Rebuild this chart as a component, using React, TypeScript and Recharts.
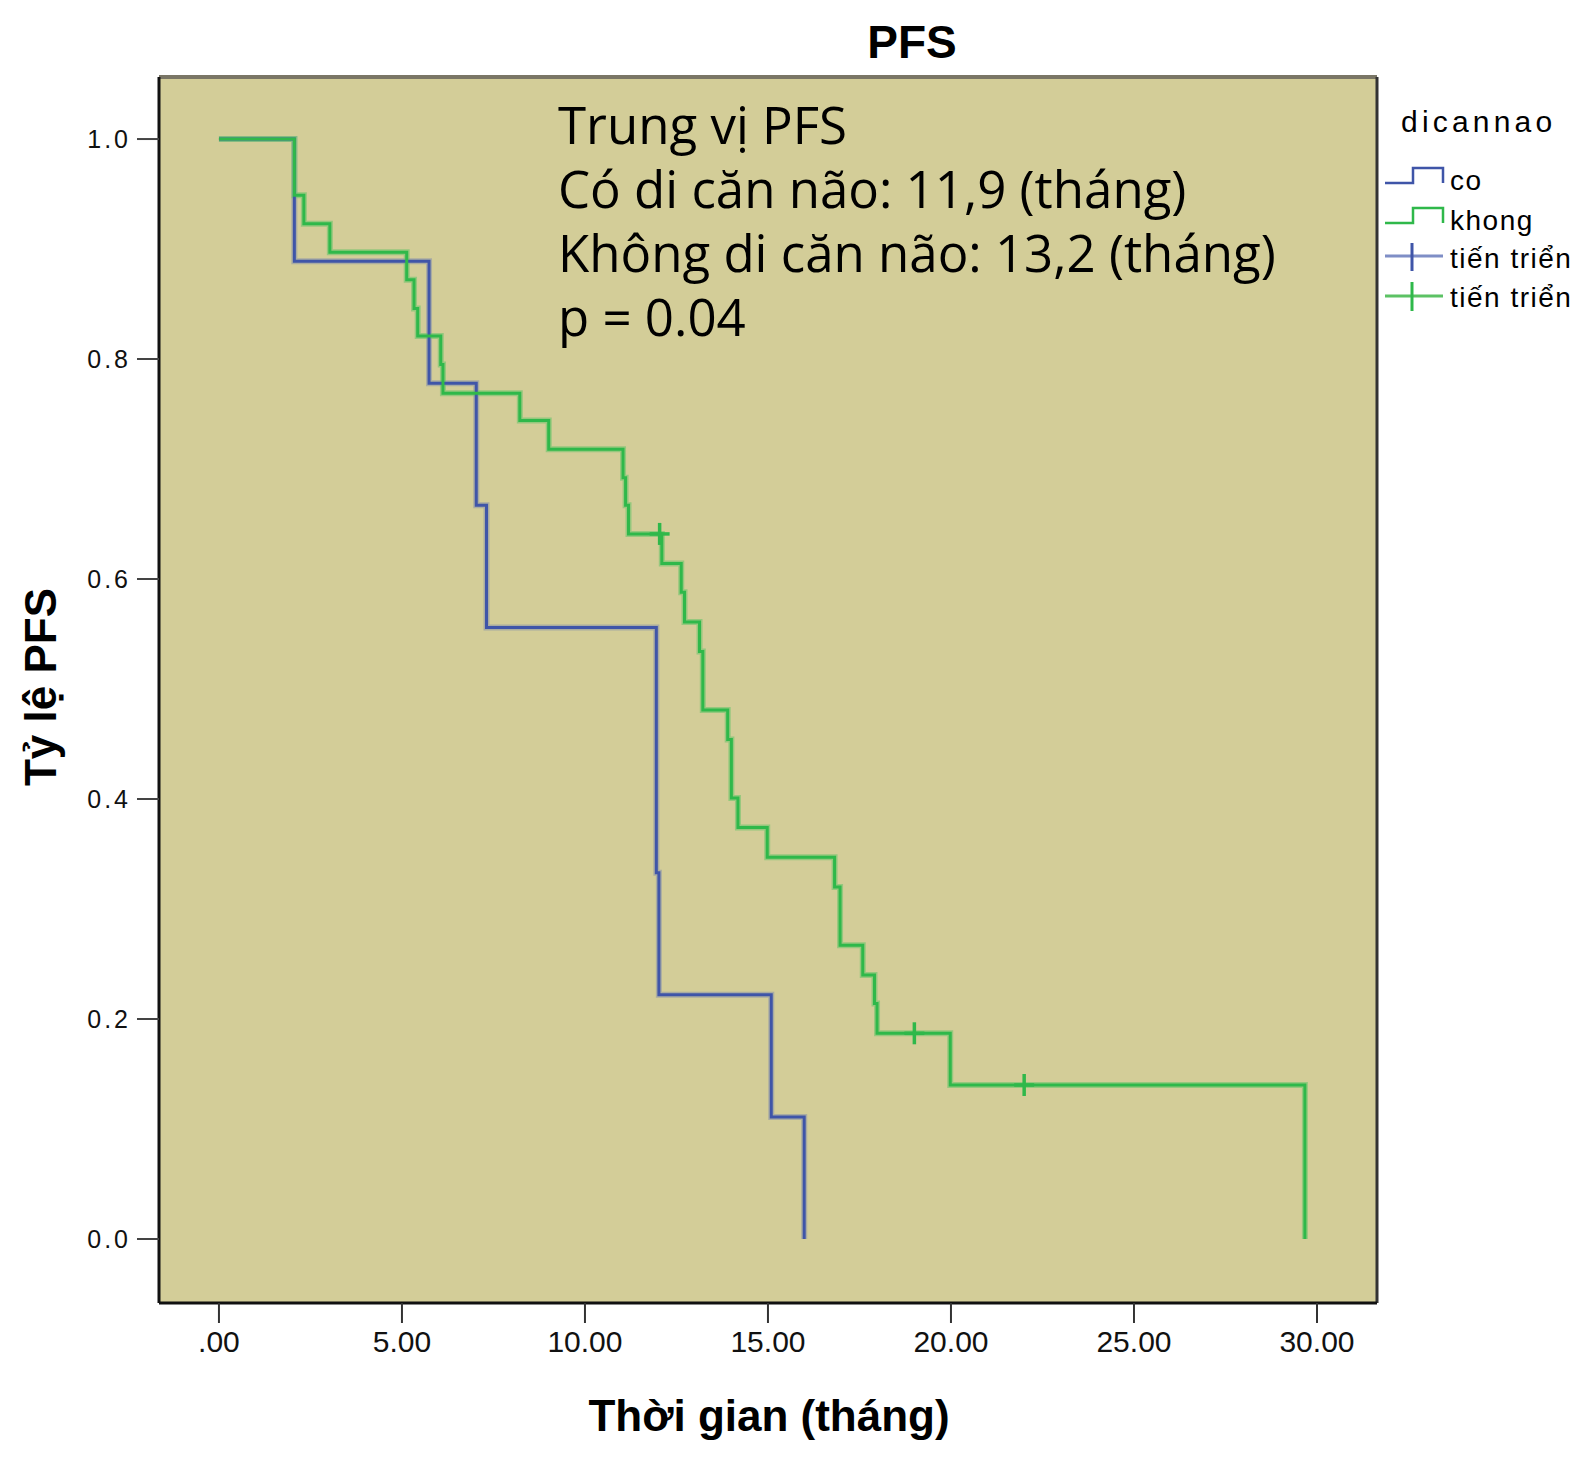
import { ComposedChart, Line, XAxis, YAxis, CartesianGrid, ReferenceLine } from "recharts";

// Kaplan-Meier steps (months, survival proportion)
const coTimes = [0, 2.06, 5.74, 7.03, 7.31, 11.95, 12.02, 15.09, 15.99];
const coSurv = [1, 0.889, 0.778, 0.667, 0.556, 0.333, 0.222, 0.111, 0];

const khongTimes = [
	0, 2.06, 2.32, 3.03, 5.13, 5.33, 5.43, 6.06, 6.12, 8.22, 9.01, 11.04, 11.11, 11.19, 12.1,
	12.63, 12.72, 13.13, 13.22, 13.9, 14.0, 14.18, 14.98, 16.82, 16.97, 17.59, 17.91, 17.98,
	19.98, 29.67,
];
const khongSurv = [
	1, 0.949, 0.923, 0.897, 0.872, 0.846, 0.821, 0.795, 0.769, 0.744, 0.718, 0.692, 0.667, 0.641,
	0.614, 0.588, 0.561, 0.534, 0.481, 0.454, 0.401, 0.374, 0.347, 0.32, 0.267, 0.24, 0.214, 0.187,
	0.14, 0,
];

// censored observations (tiến triển marks)
const khongCensorTimes = [12.04, 19.0, 22.0];
const khongCensorSurv = [0.641, 0.187, 0.14];

const xTicks = [0, 5, 10, 15, 20, 25, 30];
const yTicks = [0, 0.2, 0.4, 0.6, 0.8, 1.0];

const annotation = [
	"Trung vị PFS",
	"Có di căn não: 11,9 (tháng)",
	"Không di căn não: 13,2 (tháng)",
	"p = 0.04",
];

const BLUE = "#3f55a8";
const GREEN = "#2fb84a";
const BG = "#d3cd98";

const toPoints = (ts: number[], ss: number[]) => ts.map((t, i) => ({ t, s: ss[i] }));

const coData = toPoints(coTimes, coSurv);
const khongData = toPoints(khongTimes, khongSurv);
const censorData = toPoints(khongCensorTimes, khongCensorSurv);

function Cross(props: any) {
	const { cx, cy } = props;
	if (cx == null || cy == null) return null;
	return (
		<g key={`c-${cx}-${cy}`}>
			<line x1={cx - 10} x2={cx + 10} y1={cy} y2={cy} stroke={GREEN} strokeWidth={3.5} />
			<line x1={cx} x2={cx} y1={cy - 11} y2={cy + 11} stroke={GREEN} strokeWidth={3.5} />
		</g>
	);
}

export default function App() {
	return (
		<div style={{ position: "absolute", left: 0, top: 0, width: 1575, height: 1459, background: "#fff" }}>
			<ComposedChart
				width={1575}
				height={1459}
				margin={{ top: 77, right: 198, bottom: 76, left: 39 }}
			>
				<CartesianGrid horizontal={false} vertical={false} fill={BG} stroke="none" />
				<XAxis
					type="number"
					dataKey="t"
					domain={[-1.638, 31.64]}
					allowDataOverflow
					ticks={xTicks}
					tickFormatter={(v: number) => (v === 0 ? ".00" : v.toFixed(2))}
					height={80}
					tickSize={20}
					tickMargin={8}
					tick={{ fill: "#111", fontSize: 30, fontFamily: "Liberation Sans, Arial, sans-serif" }}
					axisLine={{ stroke: "#111", strokeWidth: 3 }}
					tickLine={{ stroke: "#333", strokeWidth: 2 }}
				/>
				<YAxis
					type="number"
					dataKey="s"
					domain={[-0.0582, 1.0564]}
					allowDataOverflow
					ticks={yTicks}
					tickFormatter={(v: number) => v.toFixed(1)}
					width={120}
					tickSize={22}
					tickMargin={6}
					tick={{ fill: "#111", fontSize: 25, letterSpacing: 3, fontFamily: "Liberation Sans, Arial, sans-serif" }}
					axisLine={{ stroke: "#111", strokeWidth: 3 }}
					tickLine={{ stroke: "#444", strokeWidth: 2 }}
				/>
				<ReferenceLine y={1.0564} stroke="#7a7666" strokeWidth={4} ifOverflow="visible" />
				<ReferenceLine x={31.64} stroke="#333" strokeWidth={3} ifOverflow="visible" />

				{/* soft halo under each curve, like the SPSS export */}
				<Line data={coData} dataKey="s" type="stepAfter" stroke="#8d96a8" strokeOpacity={0.6} strokeWidth={6} dot={false} isAnimationActive={false} />
				<Line data={khongData} dataKey="s" type="stepAfter" stroke="#6cc46a" strokeOpacity={0.6} strokeWidth={6} dot={false} isAnimationActive={false} />
				<Line data={coData} dataKey="s" type="stepAfter" stroke={BLUE} strokeWidth={3} dot={false} isAnimationActive={false} />
				<Line data={khongData} dataKey="s" type="stepAfter" stroke={GREEN} strokeWidth={3} dot={false} isAnimationActive={false} />
				<Line data={censorData} dataKey="s" stroke="none" strokeWidth={0} dot={<Cross />} activeDot={false} isAnimationActive={false} />
			</ComposedChart>

			<svg
				width={1575}
				height={1459}
				style={{ position: "absolute", left: 0, top: 0, pointerEvents: "none" }}
			>
				<text x={912} y={58} textAnchor="middle" fontSize={46} fontWeight="bold" fontFamily="Liberation Sans, Arial, sans-serif" fill="#000">
					PFS
				</text>
				{annotation.map((line, i) => (
					<text key={line} x={558} y={144 + i * 64} fontSize={51} fontFamily="Open Sans, Noto Sans, sans-serif" fill="#000">
						{line}
					</text>
				))}
				<text
					transform="translate(56,687) rotate(-90)"
					textAnchor="middle"
					fontSize={44}
					fontWeight="bold"
					fontFamily="Liberation Sans, Arial, sans-serif"
					fill="#000"
				>
					Tỷ lệ PFS
				</text>
				<text x={769} y={1431} textAnchor="middle" fontSize={44} fontWeight="bold" fontFamily="Liberation Sans, Arial, sans-serif" fill="#000">
					Thời gian (tháng)
				</text>

				{/* legend */}
				<g fontFamily="Liberation Sans, Arial, sans-serif" fill="#000">
					<text x={1401} y={132} fontSize={30} letterSpacing={4.2}>dicannao</text>
					<polyline points="1385,183 1413,183 1413,168 1443,168 1443,183" fill="none" stroke={BLUE} strokeWidth={2.5} />
					<text x={1450} y={190} fontSize={28} letterSpacing={1.5}>co</text>
					<polyline points="1385,223 1413,223 1413,208 1443,208 1443,223" fill="none" stroke={GREEN} strokeWidth={2.5} />
					<text x={1450} y={230} fontSize={28} letterSpacing={1.5}>khong</text>
					<line x1={1385} x2={1443} y1={256} y2={256} stroke="#7f8ec6" strokeWidth={3} />
					<line x1={1412} x2={1412} y1={243} y2={271} stroke={BLUE} strokeWidth={3} />
					<text x={1450} y={268} fontSize={28} letterSpacing={1.5}>tiến triển</text>
					<line x1={1385} x2={1443} y1={296} y2={296} stroke="#5cc264" strokeWidth={3} />
					<line x1={1412} x2={1412} y1={282} y2={311} stroke={GREEN} strokeWidth={3} />
					<text x={1450} y={307} fontSize={28} letterSpacing={1.5}>tiến triển</text>
				</g>
			</svg>
		</div>
	);
}
